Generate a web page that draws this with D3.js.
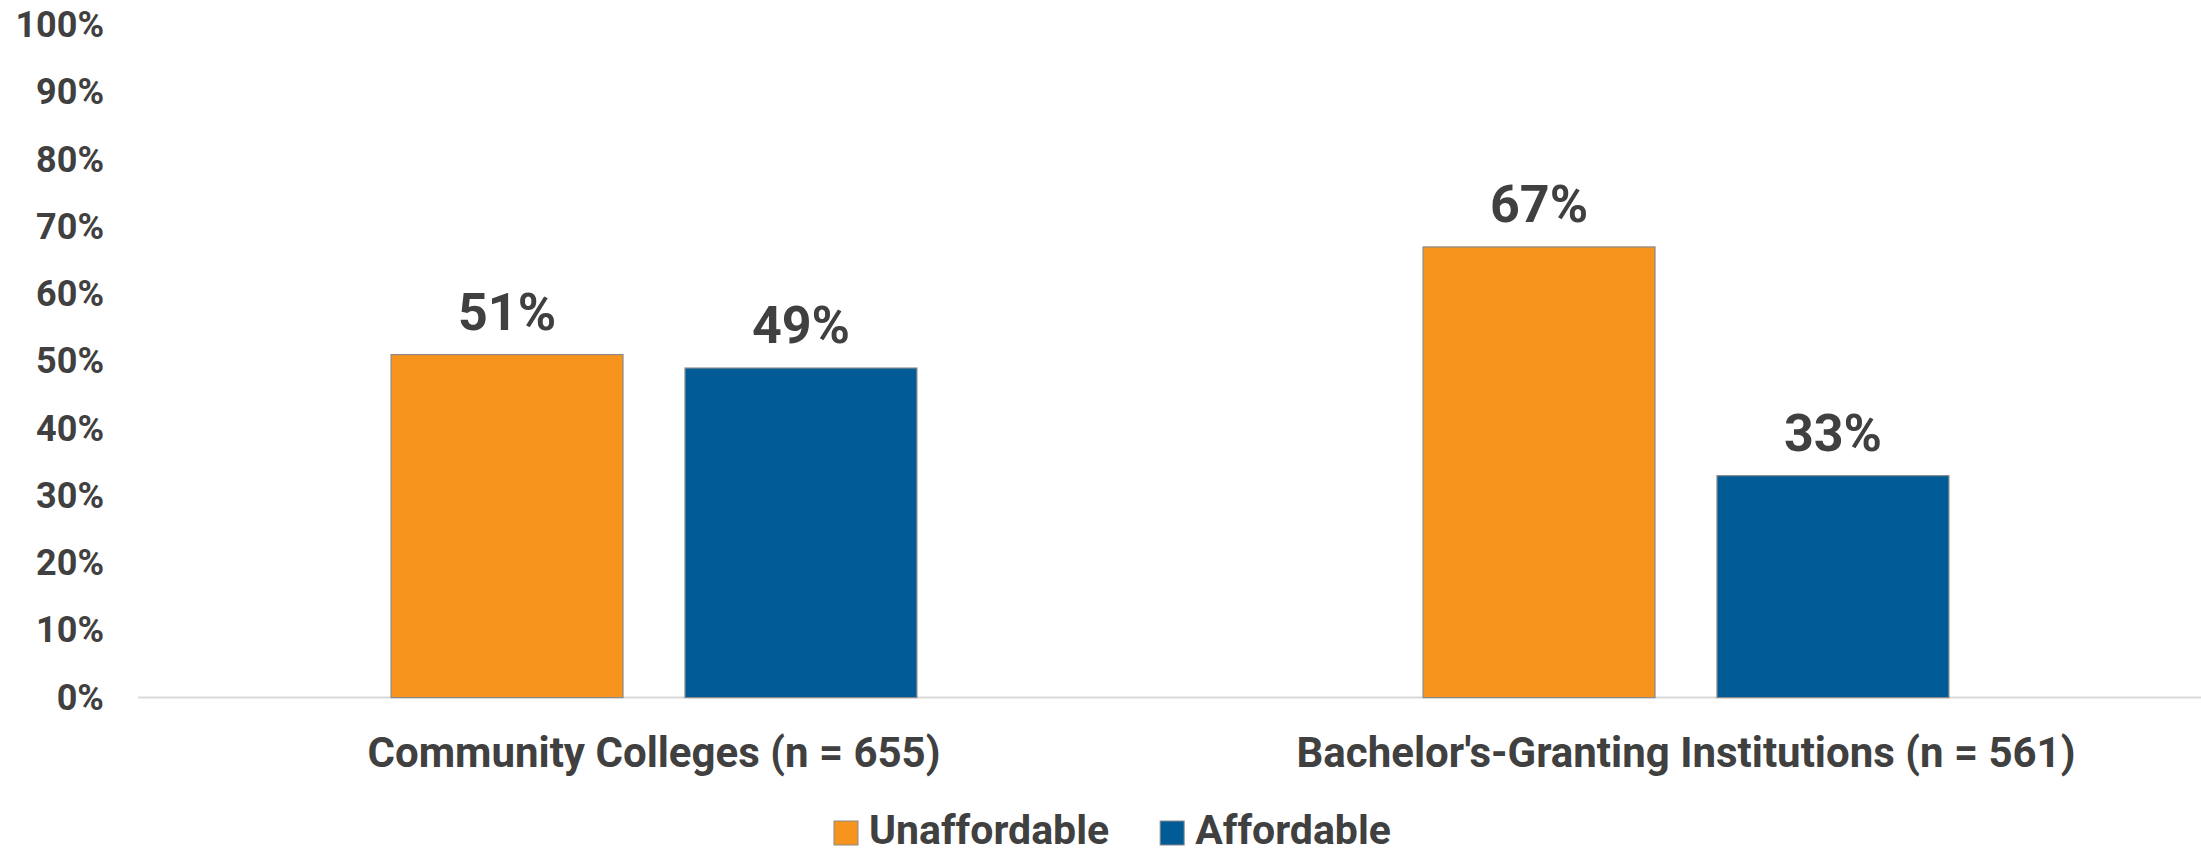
<!DOCTYPE html>
<html>
<head>
<meta charset="utf-8">
<script src="https://cdn.jsdelivr.net/npm/d3@7"></script>
<style>
  body { margin: 0; background: #fff; }
  svg { display: block; font-family: Roboto, "Noto Sans", sans-serif; }
</style>
</head>
<body>
<div id="chart"></div>
<script>
// data
var categories = ["Community Colleges (n = 655)", "Bachelor's-Granting Institutions (n = 561)"];
var series = ["Unaffordable", "Affordable"];
var unaffordable = [51, 67];
var affordable = [49, 33];
var yTicks = [0, 10, 20, 30, 40, 50, 60, 70, 80, 90, 100];

var colors = { "Unaffordable": "#f7941d", "Affordable": "#005b96" };
var textColor = "#404040";

var width = 2201, height = 853;
var margin = { top: 25, right: -1, bottom: 155, left: 138 };

var svg = d3.select('#chart').append('svg')
	.attr('width', width).attr('height', height);

var x0 = d3.scaleBand()
	.domain(categories)
	.range([margin.left, width - margin.right])
	.padding(0);

var x1 = d3.scaleBand()
	.domain(series)
	.range([0, x0.bandwidth()])
	.paddingInner(0.211)
	.paddingOuter(0.861);

var y = d3.scaleLinear()
	.domain([0, 100])
	.range([height - margin.bottom - 0.4, margin.top]);

var rows = categories.map(function(c, i) {
	return { cat: c, values: [
		{ key: "Unaffordable", v: unaffordable[i] },
		{ key: "Affordable", v: affordable[i] }
	]};
});

// y axis labels (no line, no ticks)
var yAxis = d3.axisLeft(y)
	.tickValues(yTicks)
	.tickFormat(function(d) { return d + '%'; })
	.tickSize(0)
	.tickPadding(0);

var ya = svg.append('g')
	.attr('transform', 'translate(104,0)')
	.call(yAxis);
ya.select('.domain').remove();
ya.selectAll('text')
	.attr('fill', textColor)
	.style('font-size', '36px')
	.style('font-weight', 'bold')
	.style('font-family', 'Roboto, sans-serif');

// baseline
svg.append('line')
	.attr('x1', margin.left).attr('x2', width)
	.attr('y1', y(0)).attr('y2', y(0))
	.attr('stroke', '#d9d9d9').attr('stroke-width', 2);

var groups = svg.selectAll('.grp')
	.data(rows)
	.enter().append('g')
	.attr('class', 'grp')
	.attr('transform', function(d) { return 'translate(' + x0(d.cat) + ',0)'; });

groups.selectAll('rect')
	.data(function(d) { return d.values; })
	.enter().append('rect')
	.attr('x', function(d) { return x1(d.key); })
	.attr('y', function(d) { return y(d.v); })
	.attr('width', x1.bandwidth())
	.attr('height', function(d) { return y(0) - y(d.v); })
	.attr('fill', function(d) { return colors[d.key]; })
	.attr('stroke', '#8a8a8a')
	.attr('stroke-width', 1.2);

groups.selectAll('.val')
	.data(function(d) { return d.values; })
	.enter().append('text')
	.attr('class', 'val')
	.attr('x', function(d) { return x1(d.key) + x1.bandwidth() / 2; })
	.attr('y', function(d) { return y(d.v) - 25; })
	.attr('text-anchor', 'middle')
	.attr('fill', textColor)
	.style('font-size', '52px')
	.style('font-weight', 'bold')
	.text(function(d) { return d.v + '%'; });

// category labels
svg.selectAll('.cat')
	.data(categories)
	.enter().append('text')
	.attr('class', 'cat')
	.attr('x', function(d) { return x0(d) + x0.bandwidth() / 2; })
	.attr('y', 767)
	.attr('text-anchor', 'middle')
	.attr('fill', textColor)
	.style('font-size', '42px')
	.style('font-weight', 'bold')
	.text(function(d) { return d; });

// legend
var legend = svg.append('g').attr('class', 'legend');
var lx = 834;
series.forEach(function(s) {
	legend.append('rect')
		.attr('x', lx).attr('y', 821)
		.attr('width', 24).attr('height', 24)
		.attr('fill', colors[s])
		.attr('stroke', '#8a8a8a').attr('stroke-width', 1);
	var t = legend.append('text')
		.attr('x', lx + 35).attr('y', 844)
		.attr('fill', textColor)
		.style('font-size', '41px')
		.style('font-weight', 'bold')
		.text(s);
	lx = lx + 35 + t.node().getComputedTextLength() + 51;
});
</script>
</body>
</html>
